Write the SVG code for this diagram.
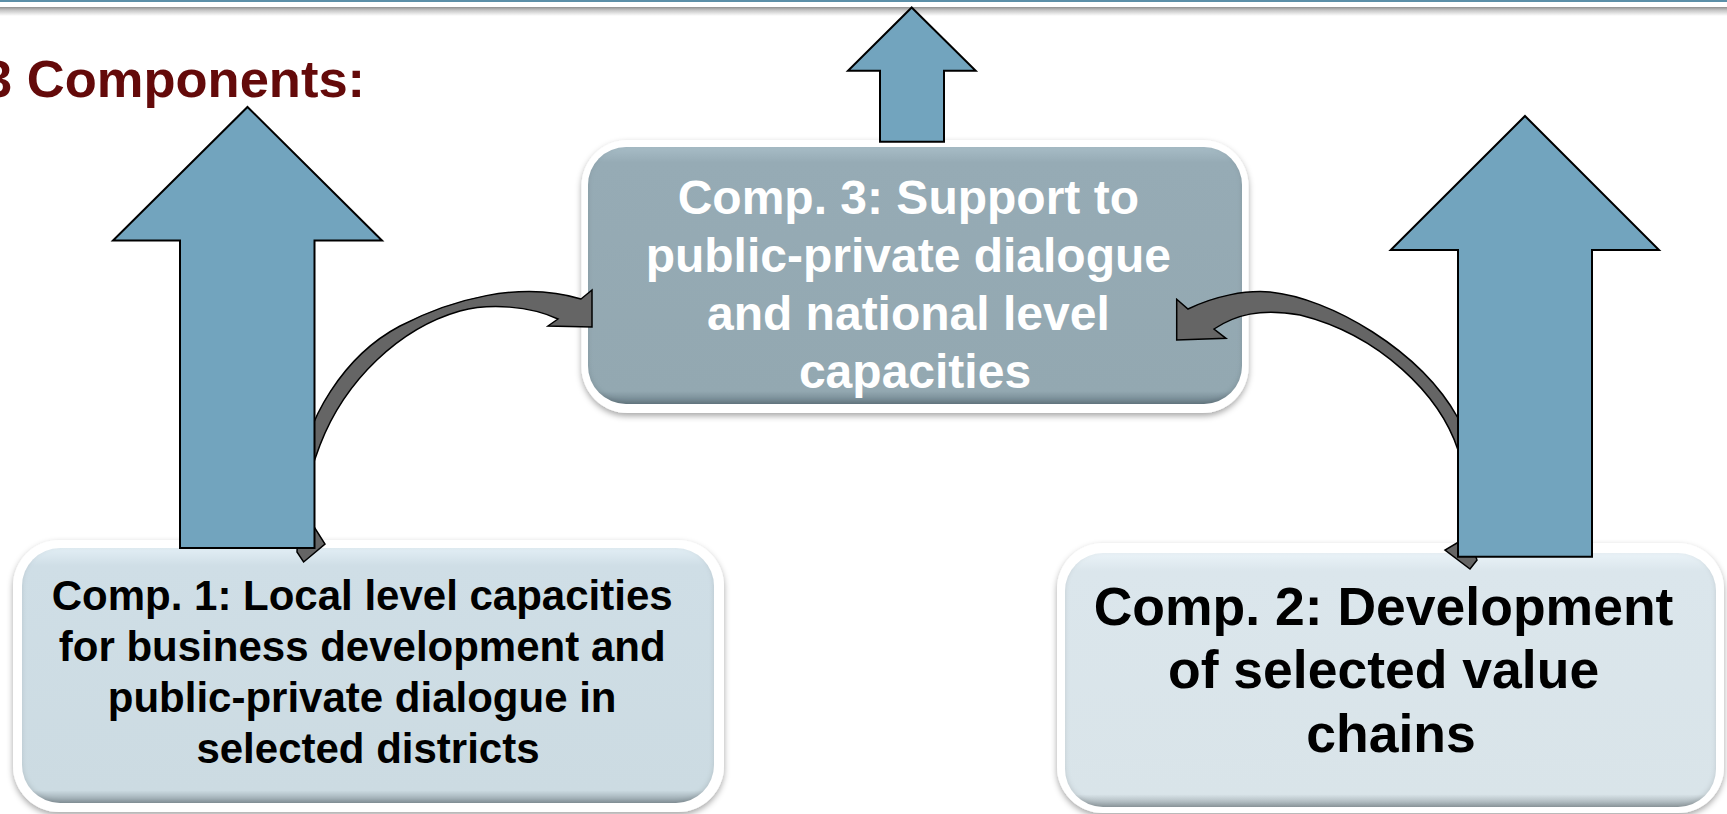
<svg xmlns="http://www.w3.org/2000/svg" width="1727" height="814" viewBox="0 0 1727 814">
  <defs>
    <linearGradient id="topShade" x1="0" y1="0" x2="0" y2="1">
      <stop offset="0" stop-color="#8f8f8f"/>
      <stop offset="0.35" stop-color="#c4c4c4"/>
      <stop offset="1" stop-color="#ffffff"/>
    </linearGradient>
    <linearGradient id="g3" x1="0" y1="0" x2="0" y2="1">
      <stop offset="0" stop-color="#a7bcc6"/>
      <stop offset="0.06" stop-color="#96abb5"/>
      <stop offset="0.95" stop-color="#93a8b1"/>
      <stop offset="1" stop-color="#6c808a"/>
    </linearGradient>
    <linearGradient id="g1" x1="0" y1="0" x2="0" y2="1">
      <stop offset="0" stop-color="#e2eef5"/>
      <stop offset="0.07" stop-color="#cfdee6"/>
      <stop offset="0.95" stop-color="#ccdbe2"/>
      <stop offset="1" stop-color="#8e9ca3"/>
    </linearGradient>
    <linearGradient id="g2" x1="0" y1="0" x2="0" y2="1">
      <stop offset="0" stop-color="#eaf3f8"/>
      <stop offset="0.07" stop-color="#dbe6ec"/>
      <stop offset="0.95" stop-color="#d9e4e9"/>
      <stop offset="1" stop-color="#98a3a8"/>
    </linearGradient>
    <filter id="shadow" x="-10%" y="-10%" width="120%" height="125%">
      <feGaussianBlur in="SourceAlpha" stdDeviation="3"/>
      <feOffset dx="0" dy="3" result="b"/>
      <feFlood flood-color="#000" flood-opacity="0.35"/>
      <feComposite in2="b" operator="in"/>
      <feMerge><feMergeNode/><feMergeNode in="SourceGraphic"/></feMerge>
    </filter>
    <filter id="inner" x="-5%" y="-5%" width="110%" height="110%">
      <feGaussianBlur in="SourceAlpha" stdDeviation="2.5" result="blur"/>
      <feOffset dx="0" dy="-2" result="off"/>
      <feComposite in="SourceAlpha" in2="off" operator="out" result="edge"/>
      <feFlood flood-color="#000" flood-opacity="0.25"/>
      <feComposite in2="edge" operator="in" result="sh"/>
      <feMerge><feMergeNode in="SourceGraphic"/><feMergeNode in="sh"/></feMerge>
    </filter>
  </defs>
  <style>
    .frame { fill: #ffffff; filter: url(#shadow); }
    .blk { fill: #72a4be; stroke: #000; stroke-width: 2; stroke-linejoin: miter; }
    .curv { fill: #656565; stroke: #000; stroke-width: 1.5; stroke-linejoin: miter; }
    .t { font-family: "Liberation Sans", Arial, sans-serif; font-weight: bold; text-anchor: middle; }
  </style>

  <rect x="0" y="0" width="1727" height="814" fill="#ffffff"/>
  <rect x="0" y="0" width="1727" height="2" fill="#5b8fa8"/>
  <rect x="0" y="7" width="1727" height="9" fill="url(#topShade)"/>

  <text x="-17" y="97" font-family="Liberation Sans, Arial, sans-serif" font-weight="bold" font-size="52.5" fill="#640a0a">3 Components:</text>

  <g id="comp3">
    <rect class="frame" x="581.5" y="140" width="667" height="273" rx="46"/>
    <rect x="588" y="147" width="654" height="257" rx="38" fill="url(#g3)" filter="url(#inner)"/>
    <text class="t" font-size="48" fill="#ffffff">
      <tspan x="915" y="214">Comp. 3: Support to</tspan>
      <tspan x="915" y="272">public-private dialogue</tspan>
      <tspan x="915" y="330">and national level</tspan>
      <tspan x="915" y="388">capacities</tspan>
    </text>
  </g>

  <g id="comp1">
    <rect class="frame" x="13" y="540" width="711" height="272" rx="46"/>
    <rect x="22" y="548" width="692" height="255" rx="38" fill="url(#g1)" filter="url(#inner)"/>
    <text class="t" font-size="42" fill="#000000">
      <tspan x="368" y="610">Comp. 1: Local level capacities</tspan>
      <tspan x="368" y="661">for business development and</tspan>
      <tspan x="368" y="712">public-private dialogue in</tspan>
      <tspan x="368" y="763">selected districts</tspan>
    </text>
  </g>

  <g id="comp2">
    <rect class="frame" x="1057" y="543" width="667" height="270" rx="46"/>
    <rect x="1065" y="553" width="651" height="254" rx="38" fill="url(#g2)" filter="url(#inner)"/>
    <text class="t" font-size="53.5" fill="#000000">
      <tspan x="1391" y="625">Comp. 2: Development</tspan>
      <tspan x="1391" y="688">of selected value</tspan>
      <tspan x="1391" y="752">chains</tspan>
    </text>
  </g>

  <g id="connectors">
    <path class="curv" d="M 592,290 L 592,327 L 548,326 L 558,319 C 530,306 490,303 460,311 C 400,328 345,380 320,445 L 311,470 L 311,522 L 325,544 L 303.6,562 L 297,552 L 300,480 C 303,420 345,355 400,326 C 450,300 520,280 581,299 Z"/>
    <path class="curv" d="M 1176.7,299.3 L 1188,309 C 1215,296 1245,290 1270,292 C 1330,298 1420,350 1458,418 L 1462,540 L 1445,550 L 1470,569 L 1477,560 L 1470,540 L 1458,450 C 1440,395 1380,335 1300,315 C 1260,308 1235,315 1214,329 L 1226,338.3 L 1176.7,340 Z"/>
  </g>

  <g id="arrow-left">
    <polygon class="blk" points="247.5,107 382,240.5 314.5,240.5 314.5,548 180,548 180,240.5 113,240.5"/>
  </g>
  <g id="arrow-top">
    <polygon class="blk" points="911.7,7.5 975.7,70.7 944,70.7 944,141.7 880,141.7 880,70.7 848,70.7"/>
  </g>
  <g id="arrow-right">
    <polygon class="blk" points="1525,116 1659,250 1592,250 1592,556.7 1458,556.7 1458,250 1390.7,250"/>
  </g>
</svg>
